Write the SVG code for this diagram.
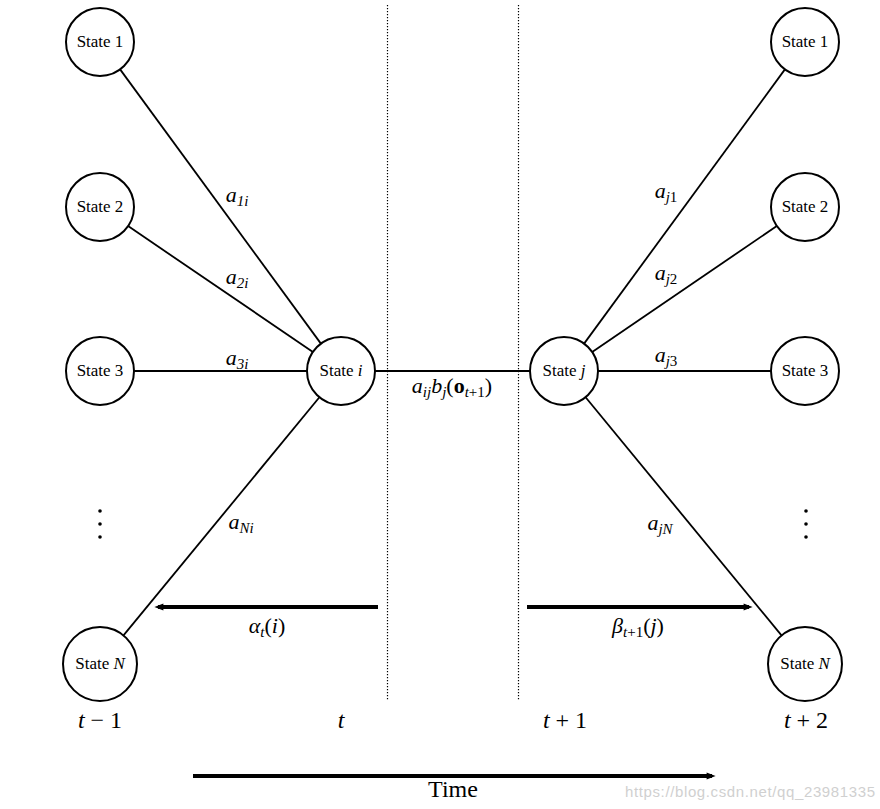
<svg xmlns="http://www.w3.org/2000/svg" width="880" height="809" viewBox="0 0 880 809">
<defs>
<marker id="ah" viewBox="0 0 10 10" refX="6" refY="5" markerUnits="userSpaceOnUse" markerWidth="10" markerHeight="9" orient="auto-start-reverse">
<path d="M0,1 L10,5 L0,9 z" fill="#000"/>
</marker>
</defs>
<style>
.node circle{fill:#fff;stroke:#000;stroke-width:2}
.lbl{font-family:"Liberation Serif","DejaVu Serif",serif;font-size:17px;text-anchor:middle}
.m{font-family:"Liberation Serif","DejaVu Serif",serif;font-style:italic;font-size:22px;text-anchor:middle}
.s{font-size:15px}
.up{font-style:normal}
.edge{stroke:#000;stroke-width:1.8;fill:none}
.vdot{stroke:#000;stroke-width:1.2;stroke-dasharray:1.2 1.8}
.big{stroke:#000;stroke-width:4;fill:none;marker-end:url(#ah)}
.t{font-family:"Liberation Serif","DejaVu Serif",serif;font-size:24px;text-anchor:middle}
</style>
<rect width="880" height="809" fill="#fff"/>

<g id="time-dividers">
<line class="vdot" x1="387.5" y1="5" x2="387.5" y2="700"/>
<line class="vdot" x1="518.5" y1="5" x2="518.5" y2="700"/>
</g>

<g id="connectors">
<line class="edge" x1="120.1" y1="69.4" x2="320.9" y2="343.6"/>
<line class="edge" x1="128.1" y1="226.1" x2="312.9" y2="351.9"/>
<line class="edge" x1="134" y1="371" x2="307" y2="371"/>
<line class="edge" x1="123.5" y1="635.4" x2="319.4" y2="397.3"/>
<line class="edge" x1="375" y1="371" x2="530" y2="371"/>
<line class="edge" x1="584.1" y1="343.6" x2="784.9" y2="69.4"/>
<line class="edge" x1="592.2" y1="352" x2="776.8" y2="226"/>
<line class="edge" x1="598" y1="371" x2="771" y2="371"/>
<line class="edge" x1="585.6" y1="397.3" x2="781.5" y2="635.4"/>
</g>

<g id="edge-labels" class="m">
<text x="237" y="202">a<tspan dy="4" class="s">1i</tspan></text>
<text x="237" y="284">a<tspan dy="4" class="s">2i</tspan></text>
<text x="237" y="365">a<tspan dy="4" class="s">3i</tspan></text>
<text x="241" y="529">a<tspan dy="4" class="s">Ni</tspan></text>
<text x="666" y="198">a<tspan dy="4" class="s">j<tspan class="up">1</tspan></tspan></text>
<text x="666" y="280">a<tspan dy="4" class="s">j<tspan class="up">2</tspan></tspan></text>
<text x="666" y="362">a<tspan dy="4" class="s">j<tspan class="up">3</tspan></tspan></text>
<text x="660" y="530">a<tspan dy="4" class="s">jN</tspan></text>
<text x="452" y="393">a<tspan dy="4" class="s">ij</tspan><tspan dy="-4">b</tspan><tspan dy="4" class="s">j</tspan><tspan dy="-4" class="up">(</tspan><tspan class="up" font-weight="bold">o</tspan><tspan dy="4" class="s">t<tspan class="up">+1</tspan></tspan><tspan dy="-4" class="up">)</tspan></text>
</g>

<g id="alpha">
<line class="big" x1="378" y1="607" x2="158" y2="607"/>
<text class="m" x="267" y="633">α<tspan dy="4" class="s">t</tspan><tspan dy="-4" class="up">(</tspan>i<tspan class="up">)</tspan></text>
</g>
<g id="beta">
<line class="big" x1="527" y1="607" x2="749" y2="607"/>
<text class="m" x="638" y="633">β<tspan dy="4" class="s">t<tspan class="up">+1</tspan></tspan><tspan dy="-4" class="up">(</tspan>j<tspan class="up">)</tspan></text>
</g>

<g id="node-L1" class="node"><circle cx="100" cy="42" r="34"/><text class="lbl" x="100" y="47">State 1</text></g>
<g id="node-L2" class="node"><circle cx="100" cy="207" r="34"/><text class="lbl" x="100" y="212">State 2</text></g>
<g id="node-L3" class="node"><circle cx="100" cy="371" r="34"/><text class="lbl" x="100" y="376">State 3</text></g>
<g id="node-LN" class="node"><circle cx="100" cy="664" r="37"/><text class="lbl" x="100" y="669">State <tspan font-style="italic">N</tspan></text></g>
<g id="node-i" class="node"><circle cx="341" cy="371" r="34"/><text class="lbl" x="341" y="376">State <tspan font-style="italic">i</tspan></text></g>
<g id="node-j" class="node"><circle cx="564" cy="371" r="34"/><text class="lbl" x="564" y="376">State <tspan font-style="italic">j</tspan></text></g>
<g id="node-R1" class="node"><circle cx="805" cy="42" r="34"/><text class="lbl" x="805" y="47">State 1</text></g>
<g id="node-R2" class="node"><circle cx="805" cy="207" r="34"/><text class="lbl" x="805" y="212">State 2</text></g>
<g id="node-R3" class="node"><circle cx="805" cy="371" r="34"/><text class="lbl" x="805" y="376">State 3</text></g>
<g id="node-RN" class="node"><circle cx="805" cy="664" r="37"/><text class="lbl" x="805" y="669">State <tspan font-style="italic">N</tspan></text></g>

<g id="ellipsis-left" fill="#000"><circle cx="100" cy="511" r="1.8"/><circle cx="100" cy="524" r="1.8"/><circle cx="100" cy="537" r="1.8"/></g>
<g id="ellipsis-right" fill="#000"><circle cx="806" cy="511" r="1.8"/><circle cx="806" cy="524" r="1.8"/><circle cx="806" cy="537" r="1.8"/></g>

<g id="time-labels" class="t">
<text x="100" y="728"><tspan font-style="italic">t</tspan> − 1</text>
<text x="341" y="728" font-style="italic">t</text>
<text x="565" y="728"><tspan font-style="italic">t</tspan> + 1</text>
<text x="806" y="728"><tspan font-style="italic">t</tspan> + 2</text>
</g>

<g id="time-axis">
<line class="big" x1="193" y1="776" x2="712" y2="776"/>
<text class="t" x="453" y="797">Time</text>
</g>

<text x="625" y="797" font-family="'Liberation Sans',sans-serif" font-size="15" fill="#d0d0d0" textLength="250">https://blog.csdn.net/qq_23981335</text>
</svg>
